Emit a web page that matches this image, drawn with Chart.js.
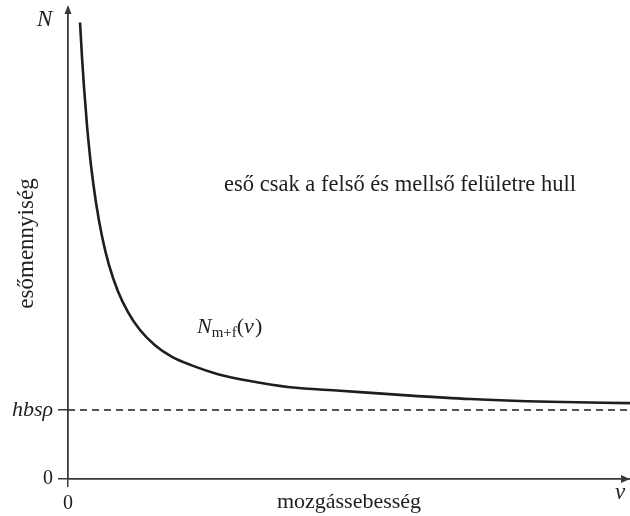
<!DOCTYPE html>
<html>
<head>
<meta charset="utf-8">
<script src="https://cdn.jsdelivr.net/npm/chart.js@4/dist/chart.umd.min.js"></script>
<style>
  html, body { margin: 0; padding: 0; background: #fff; }
  #wrap { width: 630px; height: 516px; }
</style>
</head>
<body>
<div id="wrap"><canvas id="c" width="630" height="516"></canvas></div>
<script>
// Speed v (arbitrary units, 0..10) and rain amount N (units of hbsρ)
const speeds = [0.214, 0.249, 0.285, 0.338, 0.409, 0.498, 0.605, 0.730, 0.890, 1.068, 1.281, 1.548, 1.851, 2.224, 2.669, 3.238, 3.950, 4.840, 5.907, 7.153, 8.577, 10.0];
const rainAmount = [6.62, 6.12, 5.68, 5.13, 4.55, 4.01, 3.52, 3.10, 2.72, 2.42, 2.16, 1.94, 1.77, 1.64, 1.52, 1.42, 1.33, 1.28, 1.22, 1.16, 1.12, 1.10];
const baselineLevel = 1;            // hbsρ
const yTicks = [0, baselineLevel];
const yTickLabels = ['0', 'hbsρ'];
const xTicks = [0];
const xTickLabels = ['0'];
const xRange = [0, 10];
const yRange = [0, 6.83];

const curveData = speeds.map((v, i) => ({ x: v, y: rainAmount[i] }));
const baselineData = [{ x: xRange[0], y: baselineLevel }, { x: xRange[1], y: baselineLevel }];

const SERIF = '"Liberation Serif", "DejaVu Serif", serif';
const AXIS = '#3a3a3a';
const INK = '#1e1e1e';

const decor = {
  id: 'decor',
  afterDraw(chart) {
    const { ctx, chartArea: a } = chart;
    ctx.save();
    // arrowheads
    ctx.fillStyle = AXIS;
    ctx.beginPath();
    ctx.moveTo(a.left, a.top - 3);
    ctx.lineTo(a.left - 3.5, a.top + 6);
    ctx.lineTo(a.left + 3.5, a.top + 6);
    ctx.closePath();
    ctx.fill();
    const yb = chart.scales.y.getPixelForValue(0);
    ctx.beginPath();
    ctx.moveTo(a.right, yb);
    ctx.lineTo(a.right - 9, yb - 4);
    ctx.lineTo(a.right - 9, yb + 4);
    ctx.closePath();
    ctx.fill();

    ctx.fillStyle = INK;
    ctx.textBaseline = 'middle';
    // axis end labels
    ctx.font = 'italic 23px ' + SERIF;
    ctx.textAlign = 'left';
    ctx.fillText('N', 37, 20);
    ctx.fillText('v', 615, 493);

    // region annotation
    ctx.font = '22.5px ' + SERIF;
    ctx.textAlign = 'center';
    ctx.fillText('eső csak a felső és mellső felületre hull', 400, 185);

    // curve label N_m+f(v)
    let x = 197, y = 327;
    ctx.textAlign = 'left';
    ctx.font = 'italic 22px ' + SERIF;
    ctx.fillText('N', x, y);
    x += ctx.measureText('N').width;
    ctx.font = '15px ' + SERIF;
    ctx.fillText('m+f', x, y + 6);
    x += ctx.measureText('m+f').width;
    ctx.font = '22px ' + SERIF;
    ctx.fillText('(', x, y);
    x += ctx.measureText('(').width;
    ctx.font = 'italic 22px ' + SERIF;
    ctx.fillText('v', x, y);
    x += ctx.measureText('v').width + 1;
    ctx.font = '22px ' + SERIF;
    ctx.fillText(')', x, y);
    ctx.restore();
  }
};

new Chart(document.getElementById('c'), {
  type: 'line',
  data: {
    datasets: [
      {
        data: curveData,
        borderColor: INK,
        borderWidth: 2.6,
        pointRadius: 0,
        cubicInterpolationMode: 'monotone',
        fill: false
      },
      {
        data: baselineData,
        borderColor: INK,
        borderWidth: 1.4,
        borderDash: [7, 5],
        pointRadius: 0,
        fill: false
      }
    ]
  },
  options: {
    responsive: false,
    animation: false,
    events: [],
    layout: { padding: { top: 8, right: 0, left: 0, bottom: 0 } },
    plugins: { legend: { display: false }, tooltip: { enabled: false } },
    scales: {
      x: {
        type: 'linear',
        min: xRange[0],
        max: xRange[1],
        afterFit(s) { s.height = 37; s.paddingLeft = 0; s.paddingRight = 0; },
        afterBuildTicks(s) { s.ticks = xTicks.map(v => ({ value: v })); },
        grid: { drawOnChartArea: false, drawTicks: true, tickLength: 8, color: AXIS, lineWidth: 1.5 },
        border: { display: true, color: AXIS, width: 1.8 },
        ticks: {
          color: INK,
          padding: 5,
          maxRotation: 0,
          font: { family: SERIF, size: 20 },
          callback: (v) => xTickLabels[xTicks.indexOf(v)]
        },
        title: {
          display: true,
          text: 'mozgássebesség',
          color: INK,
          font: { family: SERIF, size: 22 },
          padding: { top: 0, bottom: 1 }
        }
      },
      y: {
        type: 'linear',
        min: yRange[0],
        max: yRange[1],
        afterFit(s) { s.width = 68; s.paddingTop = 0; s.paddingBottom = 0; },
        afterBuildTicks(s) { s.ticks = yTicks.map(v => ({ value: v })); },
        grid: { drawOnChartArea: false, drawTicks: true, tickLength: 10, color: AXIS, lineWidth: 1.5 },
        border: { display: true, color: AXIS, width: 1.8 },
        ticks: {
          color: INK,
          padding: 5,
          font: (c) => ({ family: SERIF, size: (c.tick && c.tick.value === baselineLevel) ? 22 : 20, style: (c.tick && c.tick.value === baselineLevel) ? 'italic' : 'normal' }),
          callback: (v) => yTickLabels[yTicks.indexOf(v)]
        },
        title: {
          display: true,
          text: 'esőmennyiség',
          color: INK,
          font: { family: SERIF, size: 23 },
          padding: { top: 13, bottom: 0 }
        }
      }
    }
  },
  plugins: [decor]
});
</script>
</body>
</html>
